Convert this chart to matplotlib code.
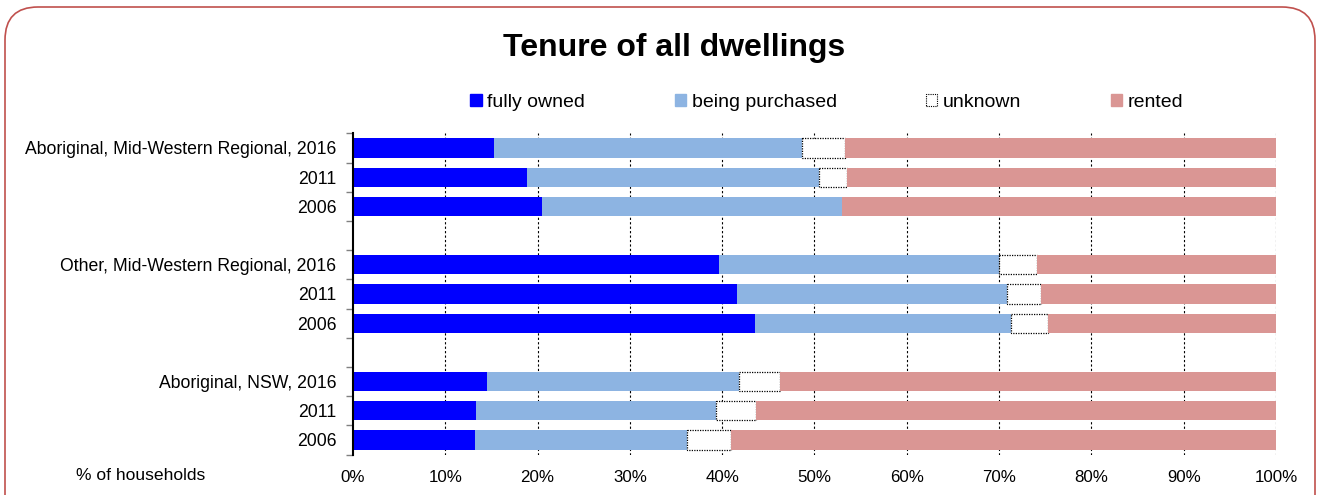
import matplotlib
matplotlib.use('Agg')
import matplotlib.pyplot as plt
from matplotlib.patches import Patch, FancyBboxPatch
import numpy as np

# ---------------- data ----------------
group_names = ["Aboriginal, Mid-Western Regional", "Other, Mid-Western Regional", "Aboriginal, NSW"]
years = ["2016", "2011", "2006"]
labels = ["Aboriginal, Mid-Western Regional, 2016", "2011", "2006",
          "Other, Mid-Western Regional, 2016", "2011", "2006",
          "Aboriginal, NSW, 2016", "2011", "2006"]
fully_owned = [15.3, 18.9, 20.5, 39.6, 41.6, 43.6, 14.5, 13.3, 13.2]
being_purchased = [33.3, 31.6, 32.5, 30.4, 29.3, 27.7, 27.3, 26.0, 23.0]
unknown = [4.7, 3.0, 0.0, 4.1, 3.6, 4.0, 4.5, 4.4, 4.8]
rented = [46.7, 46.5, 47.0, 25.9, 25.5, 24.7, 53.7, 56.3, 59.0]
legend_labels = ["fully owned", "being purchased", "unknown", "rented"]
xticks = [0, 10, 20, 30, 40, 50, 60, 70, 80, 90, 100]
xticklabels = [f"{v}%" for v in xticks]

plt.rcParams['font.family'] = ['Liberation Sans', 'DejaVu Sans']

C_FULL = "#0000FF"
C_BP = "#8DB4E2"
C_RENT = "#DA9694"

W, H = 1320, 495
fig = plt.figure(figsize=(W / 100, H / 100), dpi=100)
ax = fig.add_axes([353 / W, 1 - 454.6 / H, (1276 - 353) / W, (454.6 - 133.4) / H])

# y positions: groups of 3 separated by one empty slot
ypos = []
for g in range(len(group_names)):
    for k in range(len(years)):
        ypos.append(g * (len(years) + 1) + k)
ypos = np.array(ypos)
last = ypos.max()

bh = 0.66
left = np.zeros(len(labels))
ax.barh(ypos, fully_owned, left=left, height=bh, color=C_FULL, zorder=3)
left += np.array(fully_owned)
ax.barh(ypos, being_purchased, left=left, height=bh, color=C_BP, zorder=3)
left += np.array(being_purchased)
unk = np.array(unknown)
mask = unk > 0
ax.barh(ypos[mask], unk[mask], left=left[mask], height=bh, facecolor="white",
        edgecolor="black", linestyle=(0, (1, 1)), linewidth=0.9, zorder=3)
left += unk
ax.barh(ypos, rented, left=left, height=bh, color=C_RENT, zorder=3)

ax.set_xlim(0, 100)
ax.set_ylim(last + 0.5, -0.5)

ax.set_xticks(xticks)
ax.set_xticklabels(xticklabels, fontsize=12.2)
ax.tick_params(axis='x', length=0, pad=11)
ax.set_yticks(ypos)
ax.set_yticklabels(labels, fontsize=12.7)
ax.tick_params(axis='y', which='major', length=0, pad=12)
ax.set_yticks(np.arange(-0.5, last + 1, 1.0), minor=True)
ax.tick_params(axis='y', which='minor', length=5, width=1, color='#808080', direction='out')

for x in xticks[1:]:
    ax.axvline(x, color='black', linestyle=(0, (2, 2)), linewidth=0.8, zorder=1)

for s in ['top', 'right', 'bottom']:
    ax.spines[s].set_visible(False)
ax.spines['left'].set_linewidth(1.5)
ax.spines['left'].set_zorder(5)

# title
fig.text(674 / W, 1 - 48 / H, "Tenure of all dwellings", ha='center', va='center',
         fontsize=23, fontweight='bold')

# legend
handles = [Patch(facecolor=C_FULL, edgecolor=C_FULL),
           Patch(facecolor=C_BP, edgecolor=C_BP),
           Patch(facecolor='white', edgecolor='black', linestyle=(0, (1, 1)), linewidth=0.8),
           Patch(facecolor=C_RENT, edgecolor=C_RENT)]
fig.legend(handles, legend_labels,
           loc='center', bbox_to_anchor=(827 / W, 1 - 102.5 / H), ncol=4, frameon=False,
           fontsize=14, handlelength=0.57, handleheight=0.57, handletextpad=0.3,
           columnspacing=4.6, borderpad=0)

fig.text(141 / W, 1 - 476 / H, "% of households", ha='center', va='center', fontsize=12.6)

# rounded border
border = FancyBboxPatch((5 / W, -40 / H), (1315 - 5) / W, (495 - 7 + 40) / H,
                        boxstyle="round,pad=0,rounding_size=0.025",
                        transform=fig.transFigure, facecolor='none',
                        edgecolor='#C0504D', linewidth=1.2, mutation_aspect=W / H)
fig.patches.append(border)

fig.savefig("out.png", dpi=100)
